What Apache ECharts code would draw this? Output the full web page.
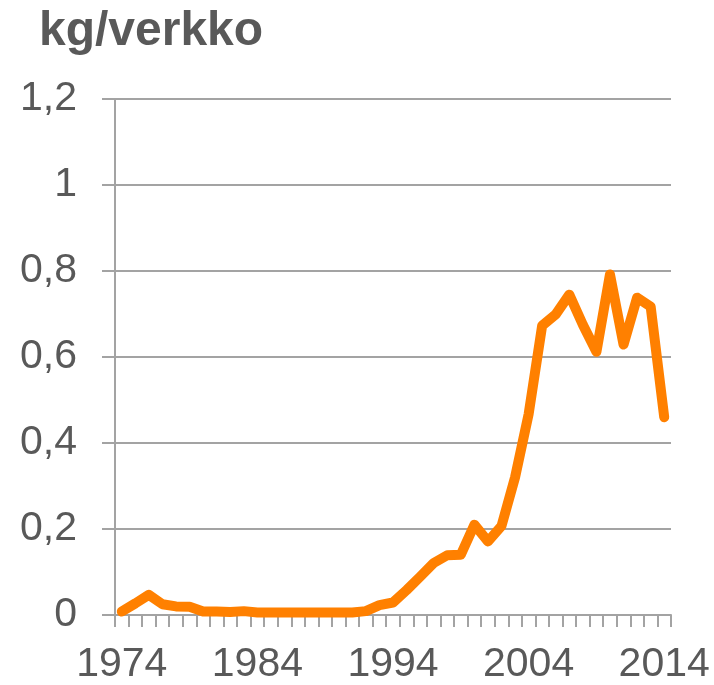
<!DOCTYPE html>
<html>
<head>
<meta charset="utf-8">
<title>kg/verkko</title>
<script src="https://cdn.jsdelivr.net/npm/echarts@6/dist/echarts.min.js"></script>
<style>
  html, body { margin: 0; padding: 0; background: #fff; }
  #chart { width: 714px; height: 685px; }
</style>
</head>
<body>
<div id="chart"></div>
<script>
// vuodet 1974–2014
const years = []
for (let y = 1974; y <= 2014; y++) years.push(String(y))

// kg/verkko, luettu kuvasta
const values = [
  0.008, 0.027, 0.047, 0.025, 0.020, 0.019, 0.008, 0.008, 0.007, 0.009,
  0.006, 0.006, 0.006, 0.006, 0.006, 0.006, 0.006, 0.006, 0.009, 0.023,
  0.029, 0.058, 0.089, 0.121, 0.139, 0.140, 0.210, 0.171, 0.207, 0.320,
  0.467, 0.673, 0.699, 0.745, 0.675, 0.612, 0.792, 0.629, 0.738, 0.717,
  0.460
]

const yTicks = [0, 0.2, 0.4, 0.6, 0.8, 1, 1.2]

const textColor = '#595959'
const gridColor = '#a3a3a3'
const font = '"Liberation Sans", Arial, sans-serif'

const chart = echarts.init(document.getElementById('chart'))

chart.setOption({
  animation: false,
  title: {
    text: 'kg/verkko',
    left: 34,
    top: 3,
    textStyle: {
      fontFamily: font,
      fontSize: 48,
      fontWeight: 'bold',
      color: textColor,
    },
  },
  grid: {
    left: 115,
    right: 43,
    top: 99,
    bottom: 68,
  },
  xAxis: {
    type: 'category',
    data: years,
    boundaryGap: true,
    axisLine: { show: true, lineStyle: { color: gridColor, width: 2 } },
    axisTick: {
      show: true,
      interval: 0,
      length: 12,
      lineStyle: { color: gridColor, width: 2 },
    },
    axisLabel: {
      interval: 9,
      margin: 29,
      fontFamily: font,
      fontSize: 41,
      color: textColor,
    },
    splitLine: { show: false },
  },
  yAxis: {
    type: 'value',
    min: yTicks[0],
    max: yTicks[yTicks.length - 1],
    interval: 0.2,
    axisLine: { show: true, lineStyle: { color: gridColor, width: 2 } },
    axisTick: {
      show: true,
      length: 13,
      lineStyle: { color: gridColor, width: 2 },
    },
    axisLabel: {
      margin: 38,
      fontFamily: font,
      fontSize: 41,
      color: textColor,
      formatter: (v) => String(+v.toFixed(1)).replace('.', ','),
    },
    splitLine: { show: true, lineStyle: { color: gridColor, width: 2 } },
  },
  series: [
    {
      type: 'line',
      data: values,
      symbol: 'none',
      lineStyle: { color: '#ff8000', width: 10, cap: 'round', join: 'round' },
    },
  ],
})
</script>
</body>
</html>
